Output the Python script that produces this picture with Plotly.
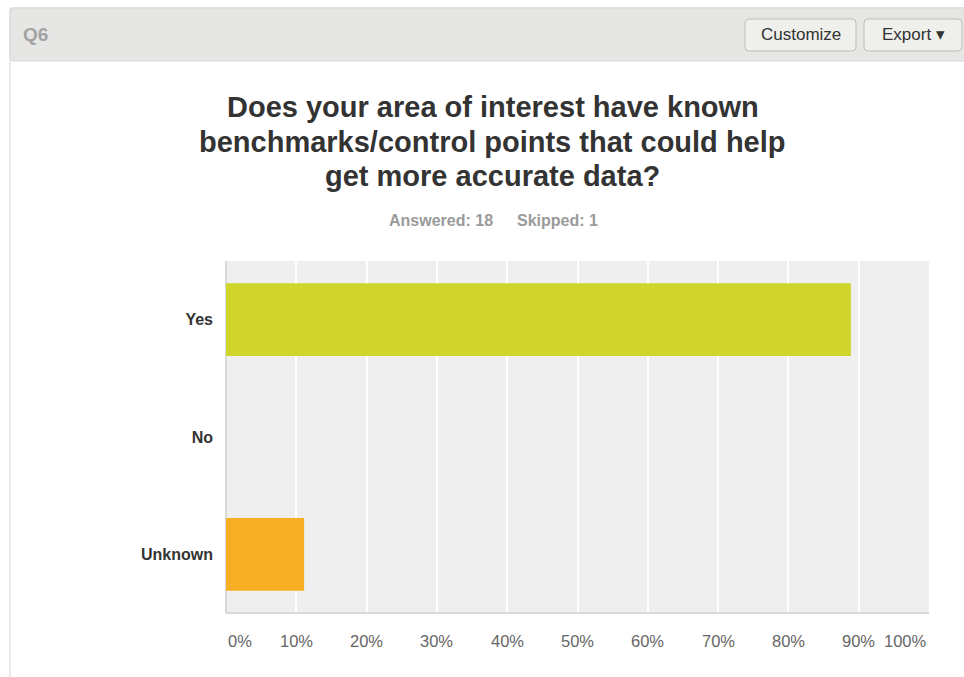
import plotly.graph_objects as go

W, H = 964, 677

# Survey results (Q6)
categories = ["Yes", "No", "Unknown"]
percentages = [88.89, 0.0, 11.11]
bar_colors = ["#cfd52b", "#e0e0e0", "#f6ae22"]
tick_values = [0, 10, 20, 30, 40, 50, 60, 70, 80, 90, 100]
tick_labels = ["0%", "10%", "20%", "30%", "40%", "50%", "60%", "70%", "80%", "90%", "100%"]

title_lines = [
    "Does your area of interest have known",
    "benchmarks/control points that could help",
    "get more accurate data?",
]
answered_text = "Answered: 18"
skipped_text = "Skipped: 1"

FONT = "Liberation Sans, Arial, Helvetica, sans-serif"

# plot area in pixels
PX_L, PX_R, PX_T, PX_B = 226, 929, 261, 613


def px(x):
    return x / W


def py(y):
    return 1 - y / H


def rounded_rect(x0, y0, x1, y1, r):
    """SVG path (paper coords) for a rounded rectangle given pixel corners."""
    pts = [
        f"M{px(x0 + r)},{py(y0)}",
        f"L{px(x1 - r)},{py(y0)}",
        f"Q{px(x1)},{py(y0)} {px(x1)},{py(y0 + r)}",
        f"L{px(x1)},{py(y1 - r)}",
        f"Q{px(x1)},{py(y1)} {px(x1 - r)},{py(y1)}",
        f"L{px(x0 + r)},{py(y1)}",
        f"Q{px(x0)},{py(y1)} {px(x0)},{py(y1 - r)}",
        f"L{px(x0)},{py(y0 + r)}",
        f"Q{px(x0)},{py(y0)} {px(x0 + r)},{py(y0)}",
        "Z",
    ]
    return " ".join(pts)


fig = go.Figure(
    go.Bar(
        x=percentages,
        y=categories,
        orientation="h",
        marker=dict(color=bar_colors, line=dict(width=0)),
        width=0.62,
        hoverinfo="skip",
    )
)

shapes = [
    # panel border
    dict(type="rect", xref="paper", yref="paper", x0=px(10), x1=px(970), y0=py(690), y1=py(8),
         line=dict(color="#d6d6d6", width=1), fillcolor="#ffffff", layer="below"),
    # header strip
    dict(type="path", xref="paper", yref="paper", path=rounded_rect(10, 8, 975, 61, 4),
         line=dict(color="#d8d8d6", width=1), fillcolor="#e6e6e4", layer="below"),
    # buttons
    dict(type="path", xref="paper", yref="paper", path=rounded_rect(745, 19, 856, 51, 4),
         line=dict(color="#bdbdbb", width=1), fillcolor="#efefec", layer="below"),
    dict(type="path", xref="paper", yref="paper", path=rounded_rect(864, 19, 962, 51, 4),
         line=dict(color="#bdbdbb", width=1), fillcolor="#efefec", layer="below"),
    # plot background
    dict(type="rect", xref="paper", yref="paper", x0=px(PX_L), x1=px(PX_R), y0=py(PX_B), y1=py(PX_T),
         line=dict(width=0), fillcolor="#efefef", layer="below"),
    # axis lines
    dict(type="line", xref="paper", yref="paper", x0=px(PX_L), x1=px(PX_R), y0=py(PX_B), y1=py(PX_B),
         line=dict(color="#d9d9d9", width=2), layer="above"),
    dict(type="line", xref="paper", yref="paper", x0=px(PX_L), x1=px(PX_L), y0=py(PX_B), y1=py(PX_T),
         line=dict(color="#d9d9d9", width=2), layer="below"),
]

annotations = [
    dict(text="<b>Q6</b>", x=px(21), y=py(35), xref="paper", yref="paper", xanchor="left", yanchor="middle",
         showarrow=False, font=dict(family=FONT, size=19, color="#a3a3a3")),
    dict(text="Customize", x=px(800.5), y=py(35), xref="paper", yref="paper", xanchor="center", yanchor="middle",
         showarrow=False, font=dict(family=FONT, size=17, color="#333333")),
    dict(text="Export \u25be", x=px(913), y=py(35), xref="paper", yref="paper", xanchor="center", yanchor="middle",
         showarrow=False, font=dict(family=FONT, size=17, color="#333333")),
    dict(text=f"<b>{answered_text}</b>", x=px(495), y=py(221), xref="paper", yref="paper",
         xanchor="right", yanchor="middle", showarrow=False,
         font=dict(family=FONT, size=16, color="#9a9a9a")),
    dict(text=f"<b>{skipped_text}</b>", x=px(515), y=py(221), xref="paper", yref="paper",
         xanchor="left", yanchor="middle", showarrow=False,
         font=dict(family=FONT, size=16, color="#9a9a9a")),
]

# title, one annotation per line
for line, ypix in zip(title_lines, [107, 142, 176]):
    annotations.append(dict(text=f"<b>{line}</b>", x=px(493), y=py(ypix), xref="paper", yref="paper",
                            xanchor="center", yanchor="middle", showarrow=False,
                            font=dict(family=FONT, size=29, color="#333333")))

# x tick labels: first left-justified, last right-justified, others centred
for i, (v, lab) in enumerate(zip(tick_values, tick_labels)):
    anchor = "left" if i == 0 else ("right" if i == len(tick_values) - 1 else "center")
    annotations.append(dict(text=lab, x=v, y=py(641), xref="x", yref="paper", xanchor=anchor,
                            yanchor="middle", showarrow=False,
                            font=dict(family=FONT, size=16.5, color="#666666")))

fig.update_layout(
    width=W, height=H,
    margin=dict(l=0, r=0, t=0, b=0),
    paper_bgcolor="#ffffff",
    plot_bgcolor="rgba(0,0,0,0)",
    showlegend=False,
    bargap=0.38,
    shapes=shapes,
    annotations=annotations,
    xaxis=dict(domain=[px(PX_L), px(PX_R)], range=[0, 100], tickvals=tick_values, showticklabels=False,
               showgrid=True, gridcolor="#ffffff", gridwidth=2, zeroline=False, fixedrange=True),
    yaxis=dict(domain=[py(PX_B), py(PX_T)], autorange="reversed", showgrid=False, zeroline=False,
               ticks="", ticklabelstandoff=12,
               tickfont=dict(family=FONT, size=16, color="#333333", weight="bold"), fixedrange=True),
)

fig.write_html("out.html", config=dict(displayModeBar=False))
